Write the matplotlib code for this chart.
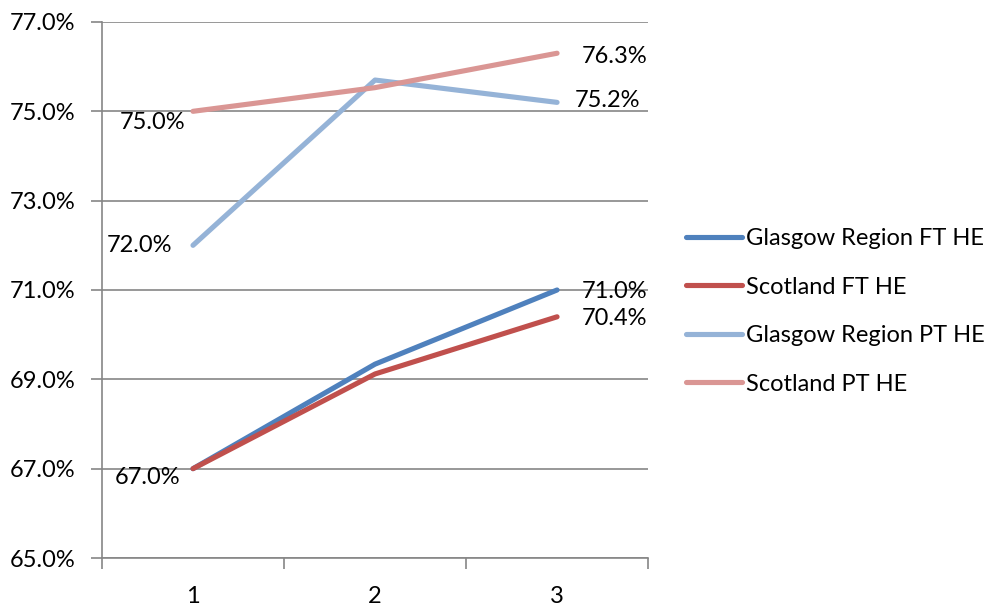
import matplotlib.pyplot as plt
from matplotlib.ticker import FuncFormatter, FixedLocator

plt.rcParams['font.family'] = ['Lato', 'DejaVu Sans']

# data
years = [1, 2, 3]
series_names = ["Glasgow Region FT HE", "Scotland FT HE",
                "Glasgow Region PT HE", "Scotland PT HE"]
glasgow_ft = [67.0, 69.34, 71.0]
scotland_ft = [67.0, 69.12, 70.4]
glasgow_pt = [72.0, 75.7, 75.2]
scotland_pt = [75.0, 75.53, 76.3]
colors = ["#4F81BD", "#C0504D", "#95B3D7", "#DA9694"]

# label offsets in pixels for first / last point (None = no label)
first_offsets = [None, (-13, -9), (-21, 0), (-8, -11)]
last_offsets = [(25, -2), (25, -2), (18, 2), (25, -3)]

FS = 17

fig = plt.figure(figsize=(9.92, 6.07), dpi=100)
ax = fig.add_axes([0.1028, 0.0807, 0.5505, 0.8831])

all_series = [glasgow_ft, scotland_ft, glasgow_pt, scotland_pt]
for vals, name, col, fo, lo in zip(all_series, series_names, colors,
                                   first_offsets, last_offsets):
    ax.plot(years, vals, color=col, lw=3.7, label=name,
            solid_capstyle='round', zorder=3)
    if fo is not None:
        ax.annotate(f"{vals[0]:.1f}%", (years[0], vals[0]), xytext=fo,
                    textcoords='offset pixels', ha='right', va='center',
                    fontsize=FS, zorder=4)
    ax.annotate(f"{vals[-1]:.1f}%", (years[-1], vals[-1]), xytext=lo,
                textcoords='offset pixels', ha='left', va='center',
                fontsize=FS, zorder=4)

ax.set_xlim(0.5, 3.5)
ax.set_ylim(65, 77)
ax.set_yticks([65, 67, 69, 71, 73, 75, 77])
ax.yaxis.set_major_formatter(FuncFormatter(lambda v, p: f"{v:.1f}%"))
ax.set_xticks(years)
ax.xaxis.set_minor_locator(FixedLocator([0.5, 1.5, 2.5, 3.5]))
ax.tick_params(axis='x', which='major', length=0, pad=20, labelsize=FS)
ax.tick_params(axis='x', which='minor', length=8, width=1.2, color='#868686')
ax.tick_params(axis='y', length=8, width=1.2, color='#868686', pad=11,
               labelsize=FS)

ax.grid(axis='y', color='#868686', lw=1.2)
ax.set_axisbelow(True)
for s in ['top', 'right']:
    ax.spines[s].set_visible(False)
for s in ['left', 'bottom']:
    ax.spines[s].set_color('#868686')
    ax.spines[s].set_linewidth(1.2)

leg = ax.legend(loc='center left', bbox_to_anchor=(1.07, 0.46), frameon=False,
                fontsize=FS, handlelength=2.35, handletextpad=0.17,
                labelspacing=1.16, borderaxespad=0, borderpad=0)

fig.savefig("out.png", dpi=100)
